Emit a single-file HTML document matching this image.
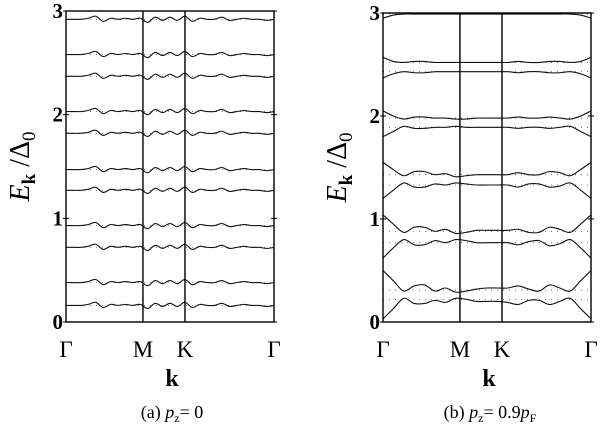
<!DOCTYPE html>
<html><head><meta charset="utf-8">
<style>
html,body{margin:0;padding:0;background:#fff;}
svg{display:block;font-family:"Liberation Serif",serif;}
</style></head>
<body>
<svg id="chart" width="608" height="433" viewBox="0 0 608 433"></svg>
<script>
// ---- data ----
const yTicks = [0, 1, 2, 3];
const kLabels = ["Γ", "M", "K", "Γ"];
const kPositions = [0, 0.37, 0.572, 1]; // fractional k-path positions of symmetry points
// left panel (pz = 0): flat levels with small wiggles
const levelsA = [0.16, 0.38, 0.72, 0.93, 1.27, 1.47, 1.82, 2.03, 2.37, 2.58, 2.92];
const wiggleA = [0, 0, 0, 0.01, 0.03, -0.02, 0.01, 0, 0.01, 0, 0.01, -0.03, 0.02, -0.01, 0.02, -0.01, 0.03, -0.02, 0.01, 0, 0, 0.02, -0.01, 0, 0.01, 0, 0, -0.01, 0];
// right panel (pz = 0.9 pF): band values sampled at u = i/20
const b1lo = [0.03,0.13,0.23,0.18,0.18,0.21,0.19,0.23,0.22,0.2,0.2,0.2,0.19,0.17,0.21,0.21,0.17,0.2,0.23,0.13,0.03];
const b1hi = [0.5,0.4,0.3,0.35,0.36,0.3,0.33,0.29,0.3,0.32,0.33,0.33,0.33,0.35,0.32,0.3,0.36,0.33,0.3,0.4,0.5];
const b2lo = [0.62,0.72,0.8,0.75,0.75,0.79,0.77,0.8,0.79,0.77,0.77,0.77,0.77,0.75,0.78,0.79,0.74,0.76,0.8,0.72,0.62];
const b2hi = [1.04,0.95,0.87,0.92,0.92,0.88,0.9,0.86,0.87,0.89,0.89,0.89,0.89,0.9,0.87,0.87,0.92,0.9,0.87,0.95,1.04];
const b3lo = [1.2,1.28,1.35,1.31,1.31,1.34,1.33,1.35,1.34,1.33,1.33,1.33,1.33,1.31,1.34,1.34,1.31,1.32,1.35,1.28,1.2];
const b3hi = [1.55,1.48,1.42,1.46,1.46,1.43,1.44,1.41,1.42,1.43,1.43,1.43,1.43,1.45,1.43,1.43,1.46,1.45,1.42,1.48,1.55];
const b4lo = [1.8,1.85,1.9,1.88,1.88,1.89,1.89,1.9,1.89,1.89,1.89,1.89,1.89,1.88,1.89,1.89,1.88,1.89,1.9,1.85,1.8];
const b4hi = [2.05,2.0,1.97,1.99,1.99,1.98,1.98,1.97,1.97,1.98,1.98,1.98,1.98,1.99,1.98,1.98,1.99,1.98,1.97,2.0,2.05];
const b5lo = [2.37,2.41,2.43,2.42,2.42,2.43,2.43,2.43,2.43,2.43,2.43,2.43,2.43,2.42,2.43,2.43,2.42,2.42,2.43,2.41,2.37];
const b5hi = [2.57,2.53,2.52,2.53,2.53,2.52,2.52,2.52,2.52,2.52,2.52,2.52,2.52,2.53,2.52,2.52,2.53,2.53,2.52,2.53,2.57];
const b6lo = [2.95,2.98,2.99,2.99,2.99,2.99,2.99,2.99,2.99,2.99,2.99,2.99,2.99,2.99,2.99,2.99,2.99,2.99,2.99,2.98,2.95];
const dottedB = [0.22,0.31,0.77,0.88,1.33,1.43,1.89,1.98,2.43,2.52,2.99];

const NS = "http://www.w3.org/2000/svg";
const svg = document.getElementById("chart");
function mk(tag, attrs, parent) {
  const e = document.createElementNS(NS, tag);
  for (const k in attrs) e.setAttribute(k, attrs[k]);
  (parent || svg).appendChild(e);
  return e;
}
function smoothPath(pts) {
  let d = "M" + pts[0][0].toFixed(2) + "," + pts[0][1].toFixed(2);
  for (let i = 0; i < pts.length - 1; i++) {
    const p0 = pts[Math.max(0, i - 1)], p1 = pts[i], p2 = pts[i + 1], p3 = pts[Math.min(pts.length - 1, i + 2)];
    const c1x = p1[0] + (p2[0] - p0[0]) / 6, c1y = p1[1] + (p2[1] - p0[1]) / 6;
    const c2x = p2[0] - (p3[0] - p1[0]) / 6, c2y = p2[1] - (p3[1] - p1[1]) / 6;
    d += "C" + c1x.toFixed(2) + "," + c1y.toFixed(2) + " " + c2x.toFixed(2) + "," + c2y.toFixed(2) + " " + p2[0].toFixed(2) + "," + p2[1].toFixed(2);
  }
  return d;
}

function panel(x0, x1, yTop, yBot, name, drawer, cap, capX) {
  const g = mk("g", {});
  
  
  const xS = u => x0 + u * (x1 - x0);
  const yS = v => yBot - v / 3 * (yBot - yTop);
  drawer(g, xS, yS);
  const fr = mk("rect", {x: x0, y: yS(3), width: x1 - x0, height: yBot - yS(3), fill: "none", stroke: "#000", "stroke-width": 1.4}, g);
  
  
  for (let i = 1; i < kPositions.length - 1; i++) {
    const l = mk("line", {x1: xS(kPositions[i]), x2: xS(kPositions[i]), y1: yS(3), y2: yBot, stroke: "#000", "stroke-width": 1.4}, g);
    
    
  }
  yTicks.forEach(t => {
    const y = yS(t);
    mk("line", {x1: x0 - 3, x2: x0 + 3, y1: y, y2: y, stroke: "#000", "stroke-width": 1}, g);
    mk("line", {x1: x1 - 3, x2: x1 + 3, y1: y, y2: y, stroke: "#000", "stroke-width": 1}, g);
    const tx = mk("text", {x: x0 - 3, y: y + 7, "text-anchor": "end", "font-size": 21, "font-weight": 600}, g);
    tx.textContent = t;
    
    
  });
  kLabels.forEach((lab, i) => {
    const tx = mk("text", {x: xS(kPositions[i]), y: 357, "text-anchor": "middle", "font-size": 23}, g);
    tx.textContent = lab;
    
    
  });
  const kx = mk("text", {x: (x0 + x1) / 2 + 2, y: 386, "text-anchor": "middle", "font-size": 24, "font-weight": "bold"}, g);
  kx.textContent = "k";
  
  
  const yt = mk("text", {transform: "translate(" + (x0 - 37) + "," + (yS(1.5)) + ") rotate(-90)", "text-anchor": "middle", "font-size": 28}, g);
  yt.innerHTML = '<tspan font-style="italic">E</tspan><tspan font-weight="bold" font-size="19" dy="6">k</tspan><tspan dy="-6"> /Δ</tspan><tspan font-size="19" dy="6">0</tspan>';
  
  
  const c = mk("text", {x: capX, y: 418, "text-anchor": "middle", "font-size": 18}, g);
  c.innerHTML = cap;
  
  
}

panel(66, 274, 11, 322, "panel-a", (g, xS, yS) => {
  levelsA.forEach(lv => {
    const dl = mk("line", {x1: xS(0), x2: xS(1), y1: yS(lv), y2: yS(lv), stroke: "#666", "stroke-width": 0.8, "stroke-dasharray": "1,5"}, g);
    
    
    const pts = wiggleA.map((w, i) => [xS(i / (wiggleA.length - 1)), yS(lv + w)]);
    const p = mk("path", {d: smoothPath(pts), fill: "none", stroke: "#111", "stroke-width": 1.1}, g);
    
    
  });
}, '(a) <tspan font-style="italic">p</tspan><tspan font-size="12" dy="4">z</tspan><tspan dy="-4">= 0</tspan>', 172);

panel(383, 591, 13, 322, "panel-b", (g, xS, yS) => {
  dottedB.forEach(lv => {
    const dl = mk("line", {x1: xS(0), x2: xS(1), y1: yS(lv), y2: yS(lv), stroke: "#555", "stroke-width": 0.8, "stroke-dasharray": "1,5"}, g);
    
    
  });
  [b1lo, b1hi, b2lo, b2hi, b3lo, b3hi, b4lo, b4hi, b5lo, b5hi, b6lo].forEach(b => {
    const pts = b.map((v, i) => [xS(i / (b.length - 1)), yS(v)]);
    const p = mk("path", {d: smoothPath(pts), fill: "none", stroke: "#111", "stroke-width": 1.1}, g);
    
    
  });
}, '(b) <tspan font-style="italic">p</tspan><tspan font-size="12" dy="4">z</tspan><tspan dy="-4">= 0.9</tspan><tspan font-style="italic">p</tspan><tspan font-size="12" dy="4">F</tspan>', 490);
</script>
</body></html>
